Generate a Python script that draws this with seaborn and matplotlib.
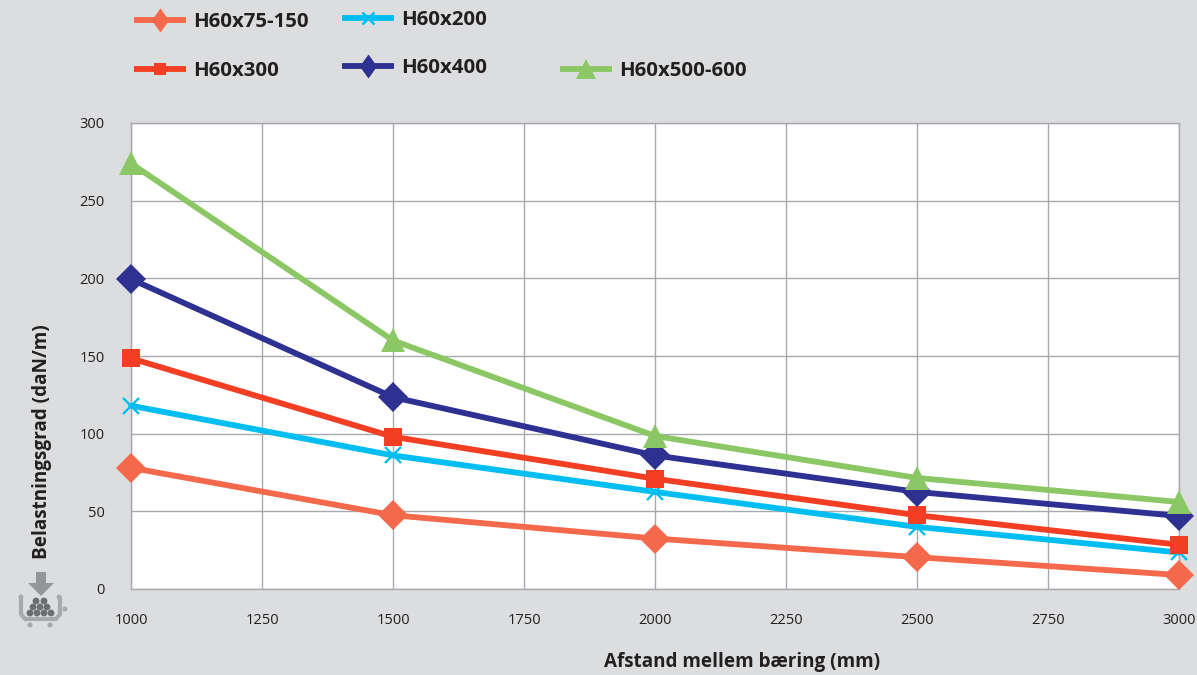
import matplotlib
matplotlib.use("Agg")
import matplotlib.pyplot as plt
from matplotlib.lines import Line2D
from matplotlib.patches import Circle, Polygon
import pandas as pd
import seaborn as sns

spans = [1000, 1500, 2000, 2500, 3000]
h75_150 = [78, 47.5, 32.5, 20.5, 9]
h200 = [118, 86, 62.5, 40, 23.5]
h300 = [148.5, 98, 71, 47.5, 28.5]
h400 = [199.5, 123.5, 86, 62.5, 47]
h500_600 = [274, 160, 98.5, 71.5, 56]

names = ["H60x75-150", "H60x200", "H60x300", "H60x400", "H60x500-600"]
colors = ["#F4694B", "#00BDF2", "#F23E23", "#2E3192", "#8CC765"]
markers = ["D", "x", "s", "D", "^"]
sizes = [14.8, 12, 13, 14.8, 17.5]

# legend diamonds are narrower than the ones on the lines
slim_diamond = [(-0.72, 0), (0, 1), (0.72, 0), (0, -1)]
legend_markers = [slim_diamond, "x", "s", slim_diamond, "^"]
legend_sizes = [17.3, 9, 9, 17.3, 14.5]

x_ticks = [1000, 1250, 1500, 1750, 2000, 2250, 2500, 2750, 3000]
y_ticks = [0, 50, 100, 150, 200, 250, 300]

bg = "#DCDDDF"
grid = "#A7A9AC"
text_col = "#231F20"

sns.set_theme(style="whitegrid")
plt.rcParams["font.family"] = ["Open Sans", "DejaVu Sans"]

rows = []
for name, vals in zip(names, [h75_150, h200, h300, h400, h500_600]):
    for s, v in zip(spans, vals):
        rows.append({"span": s, "load": v, "type": name})
df = pd.DataFrame(rows)

fig = plt.figure(figsize=(11.97, 6.75), dpi=100, facecolor=bg)
ax = fig.add_axes([131 / 1197, 1 - 589 / 675, (1179 - 131) / 1197, (589 - 123) / 675])

sns.lineplot(data=df, x="span", y="load", hue="type", hue_order=names, palette=colors,
             linewidth=4.2, legend=False, ax=ax, clip_on=False, zorder=3)

# markers go on afterwards so each one can have its own size
for name, col, m, ms in zip(names, colors, markers, sizes):
    part = df[df["type"] == name]
    ax.plot(part["span"], part["load"], ls="none", marker=m, ms=ms, color=col,
            mew=1.7 if m == "x" else 0, clip_on=False, zorder=4)

ax.set_xlim(1000, 3000)
ax.set_ylim(0, 300)
ax.set_xticks(x_ticks)
ax.set_yticks(y_ticks)
ax.set_facecolor("white")
ax.grid(True, color=grid, linewidth=1.0)
ax.set_axisbelow(True)
for side in ax.spines.values():
    side.set_color(grid)
    side.set_linewidth(1.0)
ax.tick_params(axis="y", length=9, width=1.0, color=grid, labelsize=10.5, labelcolor=text_col, pad=10)
ax.tick_params(axis="x", length=3.6, width=1.0, color=grid, labelsize=10.5, labelcolor=text_col, pad=14)

ax.set_xlabel("Afstand mellem bæring (mm)", fontsize=13.6, fontweight="bold", color=text_col, va="center")
ax.xaxis.set_label_coords(742 / 1197, 1 - 662 / 675, transform=fig.transFigure)
ax.set_ylabel("Belastningsgrad (daN/m)", fontsize=13.6, fontweight="bold", color=text_col, va="center")
ax.yaxis.set_label_coords(42 / 1197, 1 - 442 / 675, transform=fig.transFigure)

# legend entries sit at uneven spots in the original, so one legend per entry
legend_spots = [(134, 22), (342, 20), (134, 71), (342, 68), (560, 71)]
for name, col, m, ms, spot in zip(names, colors, legend_markers, legend_sizes, legend_spots):
    handle = Line2D([], [], color=col, lw=4.2, marker=m, ms=ms,
                    mew=1.8 if m == "x" else 0, solid_capstyle="butt")
    fig.legend([handle], [name], loc="center left",
               bbox_to_anchor=(spot[0] / 1197, 1 - spot[1] / 675),
               frameon=False, borderpad=0, borderaxespad=0, handlelength=2.55,
               handletextpad=0.35, prop={"size": 14.7, "weight": "bold"},
               labelcolor=text_col)

# little conveyor icon bottom left
icon = fig.add_axes([14 / 1197, 1 - 632 / 675, 56 / 1197, 62 / 675])
icon.set_xlim(14, 70)
icon.set_ylim(632, 570)
icon.axis("off")
arrow_col = "#939598"
tray_col = "#A7A9AC"
icon.add_patch(Polygon([(36, 572), (46, 572), (46, 583), (54, 583), (41, 596), (28, 583), (36, 583)],
                       color=arrow_col, lw=0))
icon.plot([21, 21, 25, 56, 60, 60], [598, 614, 619, 619, 614, 598], color=tray_col, lw=3,
          solid_capstyle="round")
for cx, cy in [(21, 597), (59, 597), (65, 609), (30, 625), (50, 625)]:
    icon.add_patch(Circle((cx, cy), 2.5, color=tray_col, lw=0))
for cx, cy in [(36, 601), (44, 601), (33, 607), (40, 607), (47, 607),
               (30, 613), (37, 613), (44, 613), (51, 613)]:
    icon.add_patch(Circle((cx, cy), 3.4, color="#6D6E71", lw=0))

fig.savefig("out.png", dpi=100, facecolor=bg)
